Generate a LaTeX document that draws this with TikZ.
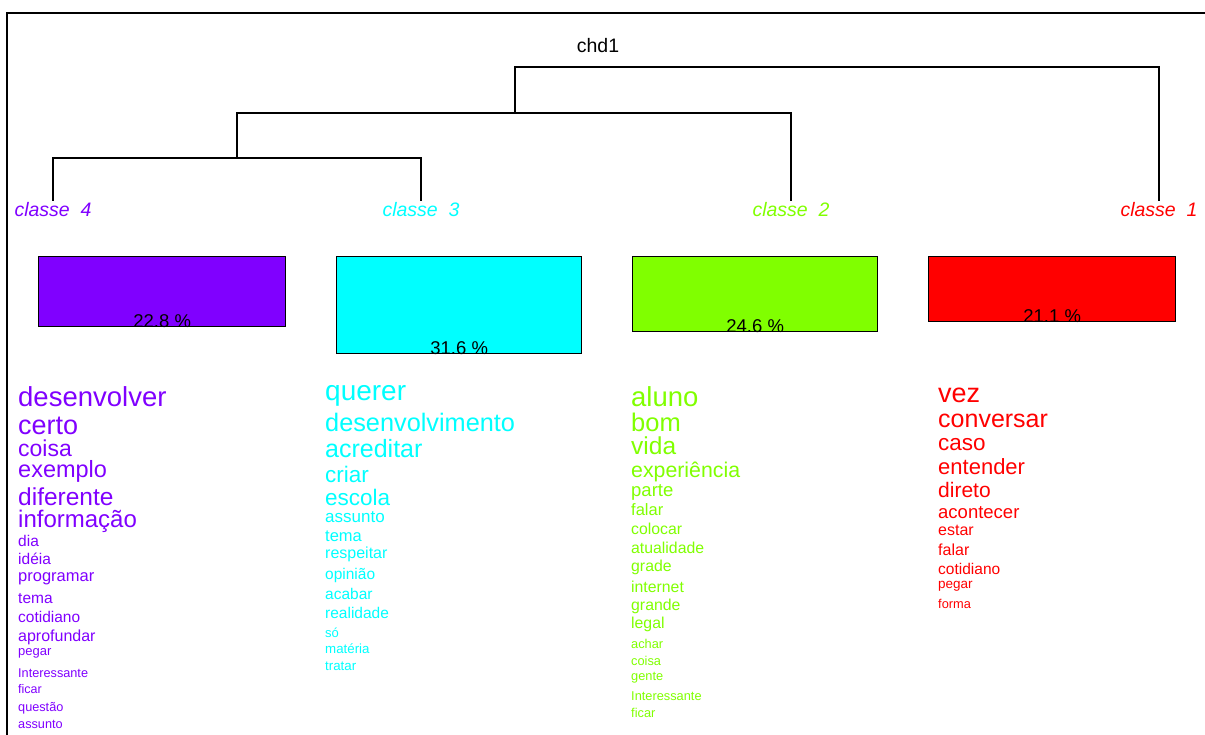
\documentclass[tikz,border=0pt]{standalone}
\usepackage{fontspec}
\setmainfont{Liberation Sans}
\usepackage{tikz}
\usetikzlibrary{positioning}

\definecolor{cla}{HTML}{FF0000}
\definecolor{clb}{HTML}{80FF00}
\definecolor{clc}{HTML}{00FFFF}
\definecolor{cld}{HTML}{8000FF}

\tikzset{
  branch/.style={line width=1.3pt, black},
  classlabel/.style={font=\fontsize{19.5}{19.5}\selectfont\itshape, anchor=base, inner sep=2pt},
  pctbox/.style={draw=black, line width=1.4pt, anchor=north west, inner sep=0pt, minimum width=247pt},
  pct/.style={font=\fontsize{18.5}{18.5}\selectfont, anchor=base, inner sep=0pt},
  word/.style={anchor=base west, inner sep=0pt}
}

\begin{document}
\begin{tikzpicture}[x=1pt, y=-1pt]
\useasboundingbox (0,0) rectangle (1205,735);
% frame
\draw[line width=1.6pt] (7,735) -- (7,13) -- (1205,13);

% title
\node[font=\fontsize{19.5}{19.5}\selectfont, anchor=base] (title) at (598,53) {chd1};

% leaves
\node[classlabel, text=cld] (c4) at (53,217) {classe~~4};
\node[classlabel, text=clc] (c3) at (421,217) {classe~~3};
\node[classlabel, text=clb] (c2) at (791,217) {classe~~2};
\node[classlabel, text=cla] (c1) at (1159,217) {classe~~1};

% junctions
\coordinate (j3) at (237,158);
\coordinate (j2) at (515,113);
\coordinate (j1) at (837,67);

\draw[branch] (c4.north) |- (j3) -| (c3.north);
\draw[branch] (j3) |- (j2) -| (c2.north);
\draw[branch] (j2) |- (j1) -| (c1.north);

% class sizes
\node[pctbox, fill=cld, minimum height=70pt] (b4) at (38,256) {};
\node[pctbox, fill=clc, minimum height=97pt, minimum width=245pt] (b3) at (336,256) {};
\node[pctbox, fill=clb, minimum height=75pt, minimum width=245pt] (b2) at (632,256) {};
\node[pctbox, fill=cla, minimum height=65pt] (b1) at (928,256) {};
\node[pct] (p4) at (b4.south) {22.8 \%};
\node[pct] (p3) at (b3.south) {31.6 \%};
\node[pct] (p2) at (b2.south) {24.6 \%};
\node[pct] (p1) at (b1.south) {21.1 \%};

% words of each class
\foreach \w/\s/\y [count=\i] in {desenvolver/27.5/406, certo/27/434, coisa/23/456,
    exemplo/23.5/477, diferente/24.5/505, informação/24/527, dia/15.5/546, idéia/15.5/564,
    programar/16.5/581, tema/15.5/603, cotidiano/15.5/622, aprofundar/16/641, pegar/13/655,
    Interessante/12.7/677, ficar/12.5/693, questão/12.7/711, assunto/12.7/728}
  \node[word, text=cld, font=\fontsize{\s}{\s}\selectfont] (w4-\i) at (18,\y) {\w};

\foreach \w/\s/\y [count=\i] in {querer/28/400, desenvolvimento/25.3/431, acreditar/25/457,
    criar/22.5/482, escola/22.5/505, assunto/17/522, tema/16.5/541, respeitar/16/558,
    opinião/15.5/579, acabar/15.5/599, realidade/15.5/618, só/13/637, matéria/13.3/653, tratar/13.3/670}
  \node[word, text=clc, font=\fontsize{\s}{\s}\selectfont] (w3-\i) at (325,\y) {\w};

\foreach \w/\s/\y [count=\i] in {aluno/27.5/406, bom/25.5/431, vida/24.5/454,
    experiência/21.3/477, parte/18.5/496, falar/16.5/515, colocar/15.8/534, atualidade/15.8/553,
    grade/15.8/571, internet/15.8/592, grande/15.8/610, legal/15.8/628, achar/12.8/648,
    coisa/12.8/665, gente/12.8/680, Interessante/12.8/700, ficar/12.8/717}
  \node[word, text=clb, font=\fontsize{\s}{\s}\selectfont] (w2-\i) at (631,\y) {\w};

\foreach \w/\s/\y [count=\i] in {vez/27/402, conversar/25/427, caso/22.5/450,
    entender/22/474, direto/21/497, acontecer/18.5/518, estar/16/535, falar/16/555,
    cotidiano/15.5/574, pegar/13.5/588, forma/12.8/608}
  \node[word, text=cla, font=\fontsize{\s}{\s}\selectfont] (w1-\i) at (938,\y) {\w};
\end{tikzpicture}
\end{document}
